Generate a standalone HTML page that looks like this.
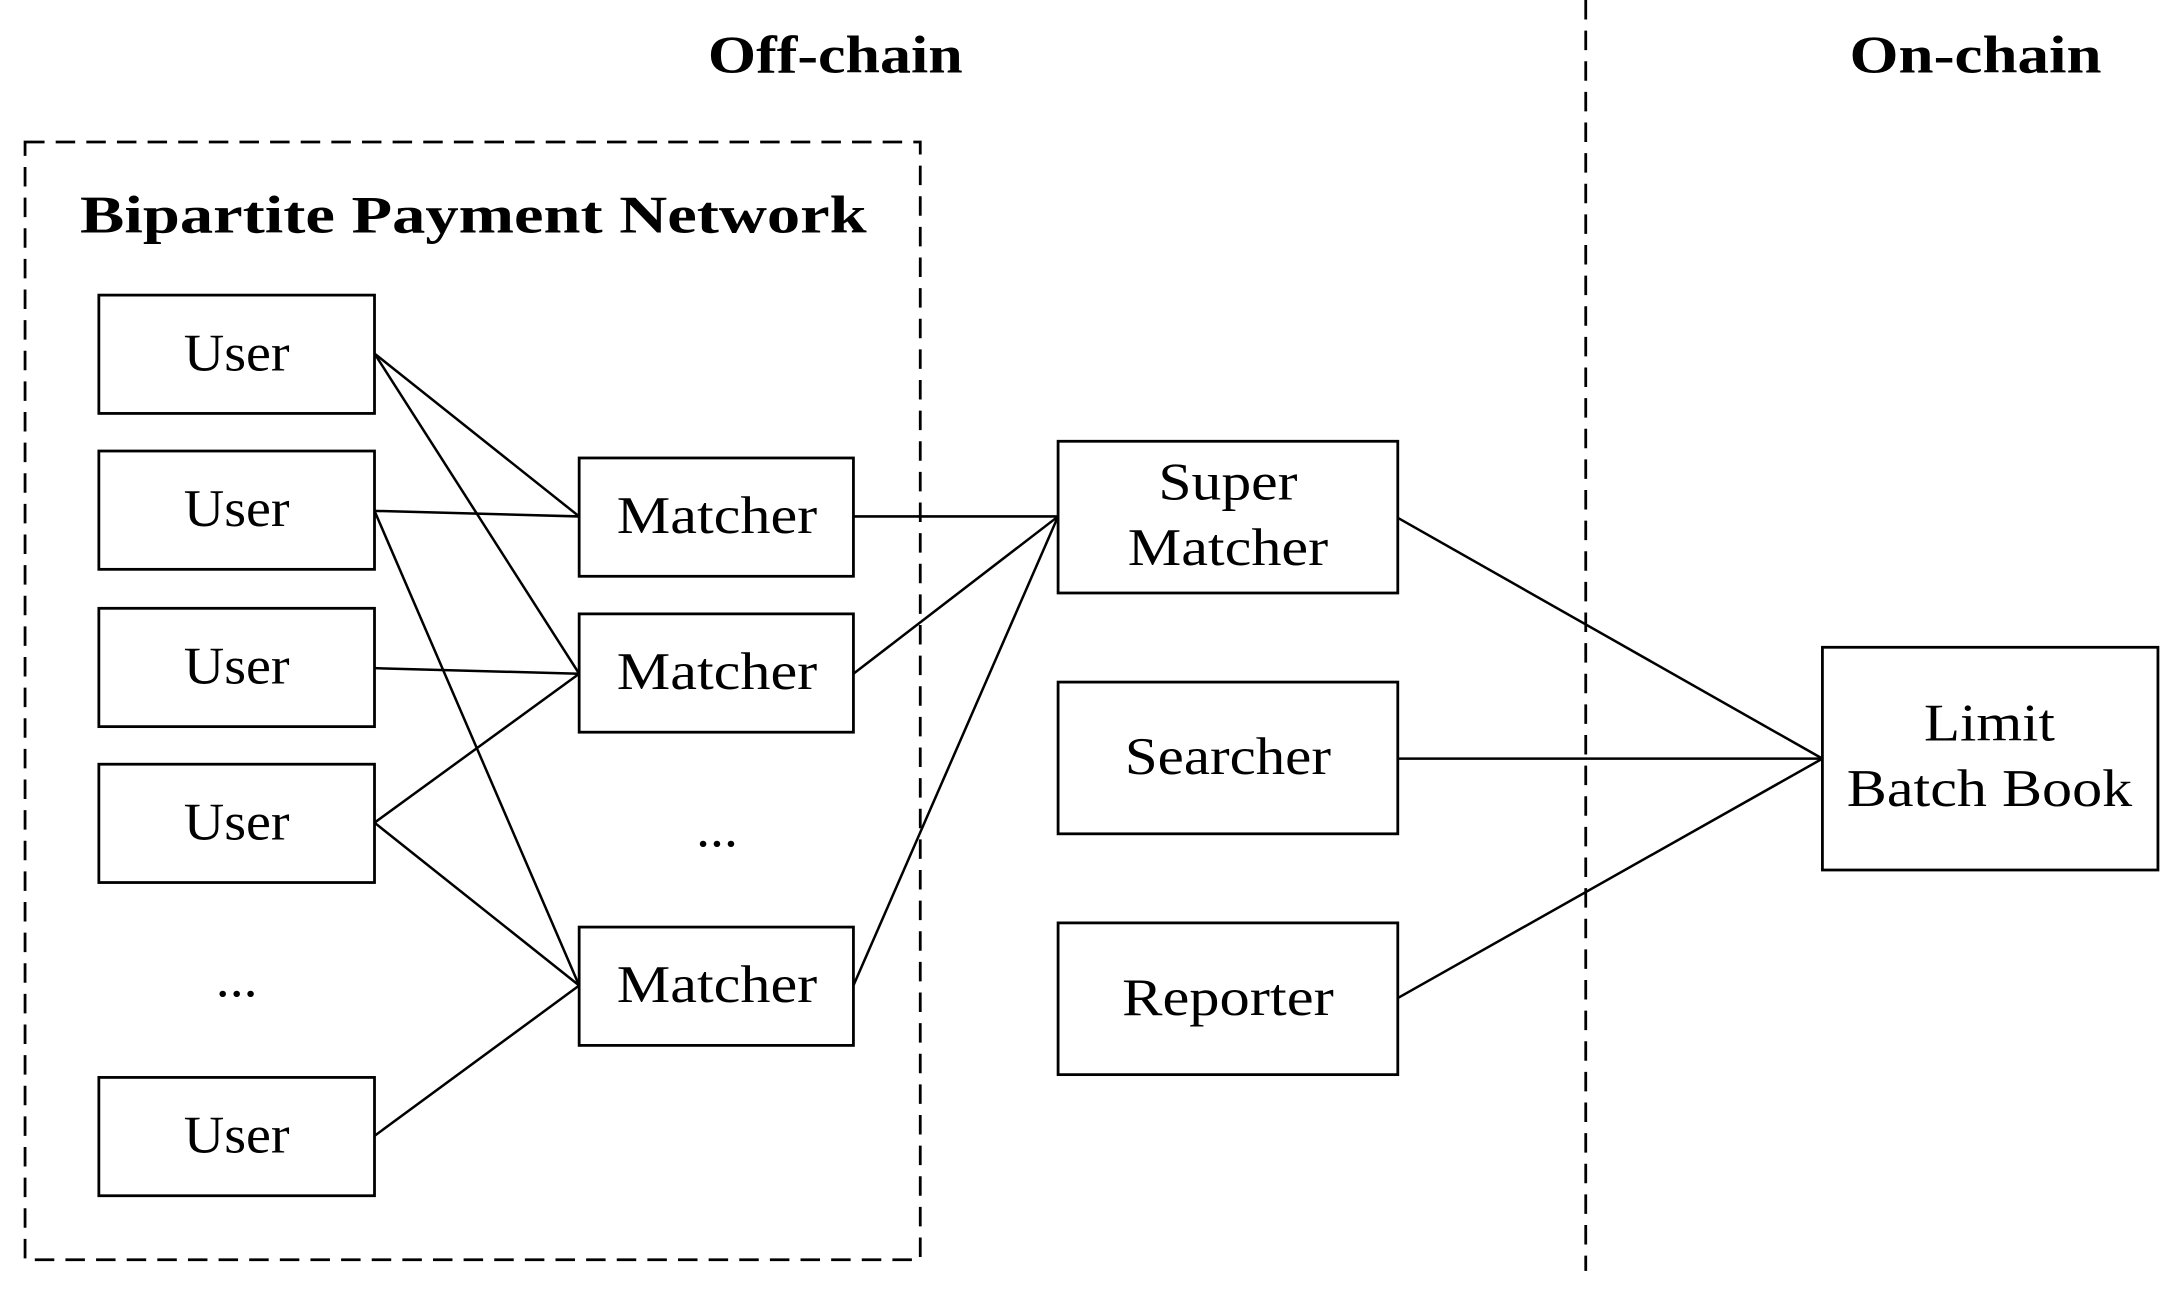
<!DOCTYPE html>
<html><head><meta charset="utf-8"><style>html,body{margin:0;padding:0;background:#fff}svg{display:block}</style></head>
<body>
<svg width="2183" height="1289" viewBox="0 0 1568 926" preserveAspectRatio="none" xmlns="http://www.w3.org/2000/svg" font-family="'Liberation Serif', serif">
<g fill="none" stroke="#000" stroke-width="2">
<rect x="18" y="102" width="643" height="803" stroke-dasharray="14,8"/>
<line x1="1139" y1="0" x2="1139" y2="913" stroke-dasharray="14,8"/>
<rect x="71" y="212" width="198" height="85"/>
<rect x="71" y="324" width="198" height="85"/>
<rect x="71" y="437" width="198" height="85"/>
<rect x="71" y="549" width="198" height="85"/>
<rect x="71" y="774" width="198" height="85"/>
<rect x="416" y="329" width="197" height="85"/>
<rect x="416" y="441" width="197" height="85"/>
<rect x="416" y="666" width="197" height="85"/>
<rect x="760" y="317" width="244" height="109"/>
<rect x="760" y="490" width="244" height="109"/>
<rect x="760" y="663" width="244" height="109"/>
<rect x="1309" y="465" width="241" height="160"/>
</g>
<g stroke="#000" stroke-width="1.8">
<line x1="269" y1="254" x2="416" y2="371"/>
<line x1="269" y1="254" x2="416" y2="484"/>
<line x1="269" y1="367" x2="416" y2="371"/>
<line x1="269" y1="367" x2="416" y2="708"/>
<line x1="269" y1="480" x2="416" y2="484"/>
<line x1="269" y1="591" x2="416" y2="484"/>
<line x1="269" y1="591" x2="416" y2="708"/>
<line x1="269" y1="816" x2="416" y2="708"/>
<line x1="613" y1="371" x2="760" y2="371"/>
<line x1="613" y1="484" x2="760" y2="371"/>
<line x1="613" y1="708" x2="760" y2="371"/>
<line x1="1004" y1="372" x2="1309" y2="545"/>
<line x1="1004" y1="545" x2="1309" y2="545"/>
<line x1="1004" y1="717" x2="1309" y2="545"/>
</g>
<g text-anchor="middle" font-size="38" fill="#000" lengthAdjust="spacingAndGlyphs">
<text x="600" y="52" font-weight="bold" textLength="183" lengthAdjust="spacingAndGlyphs">Off-chain</text>
<text x="1419" y="52" font-weight="bold" textLength="181" lengthAdjust="spacingAndGlyphs">On-chain</text>
<text x="340" y="167" font-weight="bold" textLength="565" lengthAdjust="spacingAndGlyphs">Bipartite Payment Network</text>
<text x="170" y="266" textLength="76" lengthAdjust="spacingAndGlyphs">User</text>
<text x="170" y="378" textLength="76" lengthAdjust="spacingAndGlyphs">User</text>
<text x="170" y="491" textLength="76" lengthAdjust="spacingAndGlyphs">User</text>
<text x="170" y="603" textLength="76" lengthAdjust="spacingAndGlyphs">User</text>
<text x="170" y="716" textLength="30" lengthAdjust="spacingAndGlyphs">...</text>
<text x="170" y="828" textLength="76" lengthAdjust="spacingAndGlyphs">User</text>
<text x="515" y="383" textLength="144" lengthAdjust="spacingAndGlyphs">Matcher</text>
<text x="515" y="495" textLength="144" lengthAdjust="spacingAndGlyphs">Matcher</text>
<text x="515" y="608" textLength="30" lengthAdjust="spacingAndGlyphs">...</text>
<text x="515" y="720" textLength="144" lengthAdjust="spacingAndGlyphs">Matcher</text>
<text x="882" y="359" textLength="100" lengthAdjust="spacingAndGlyphs">Super</text>
<text x="882" y="406" textLength="144" lengthAdjust="spacingAndGlyphs">Matcher</text>
<text x="882" y="556" textLength="148" lengthAdjust="spacingAndGlyphs">Searcher</text>
<text x="882" y="729" textLength="152" lengthAdjust="spacingAndGlyphs">Reporter</text>
<text x="1429" y="532" textLength="94" lengthAdjust="spacingAndGlyphs">Limit</text>
<text x="1429" y="579" textLength="205" lengthAdjust="spacingAndGlyphs">Batch Book</text>
</g>
</svg>
</body></html>
